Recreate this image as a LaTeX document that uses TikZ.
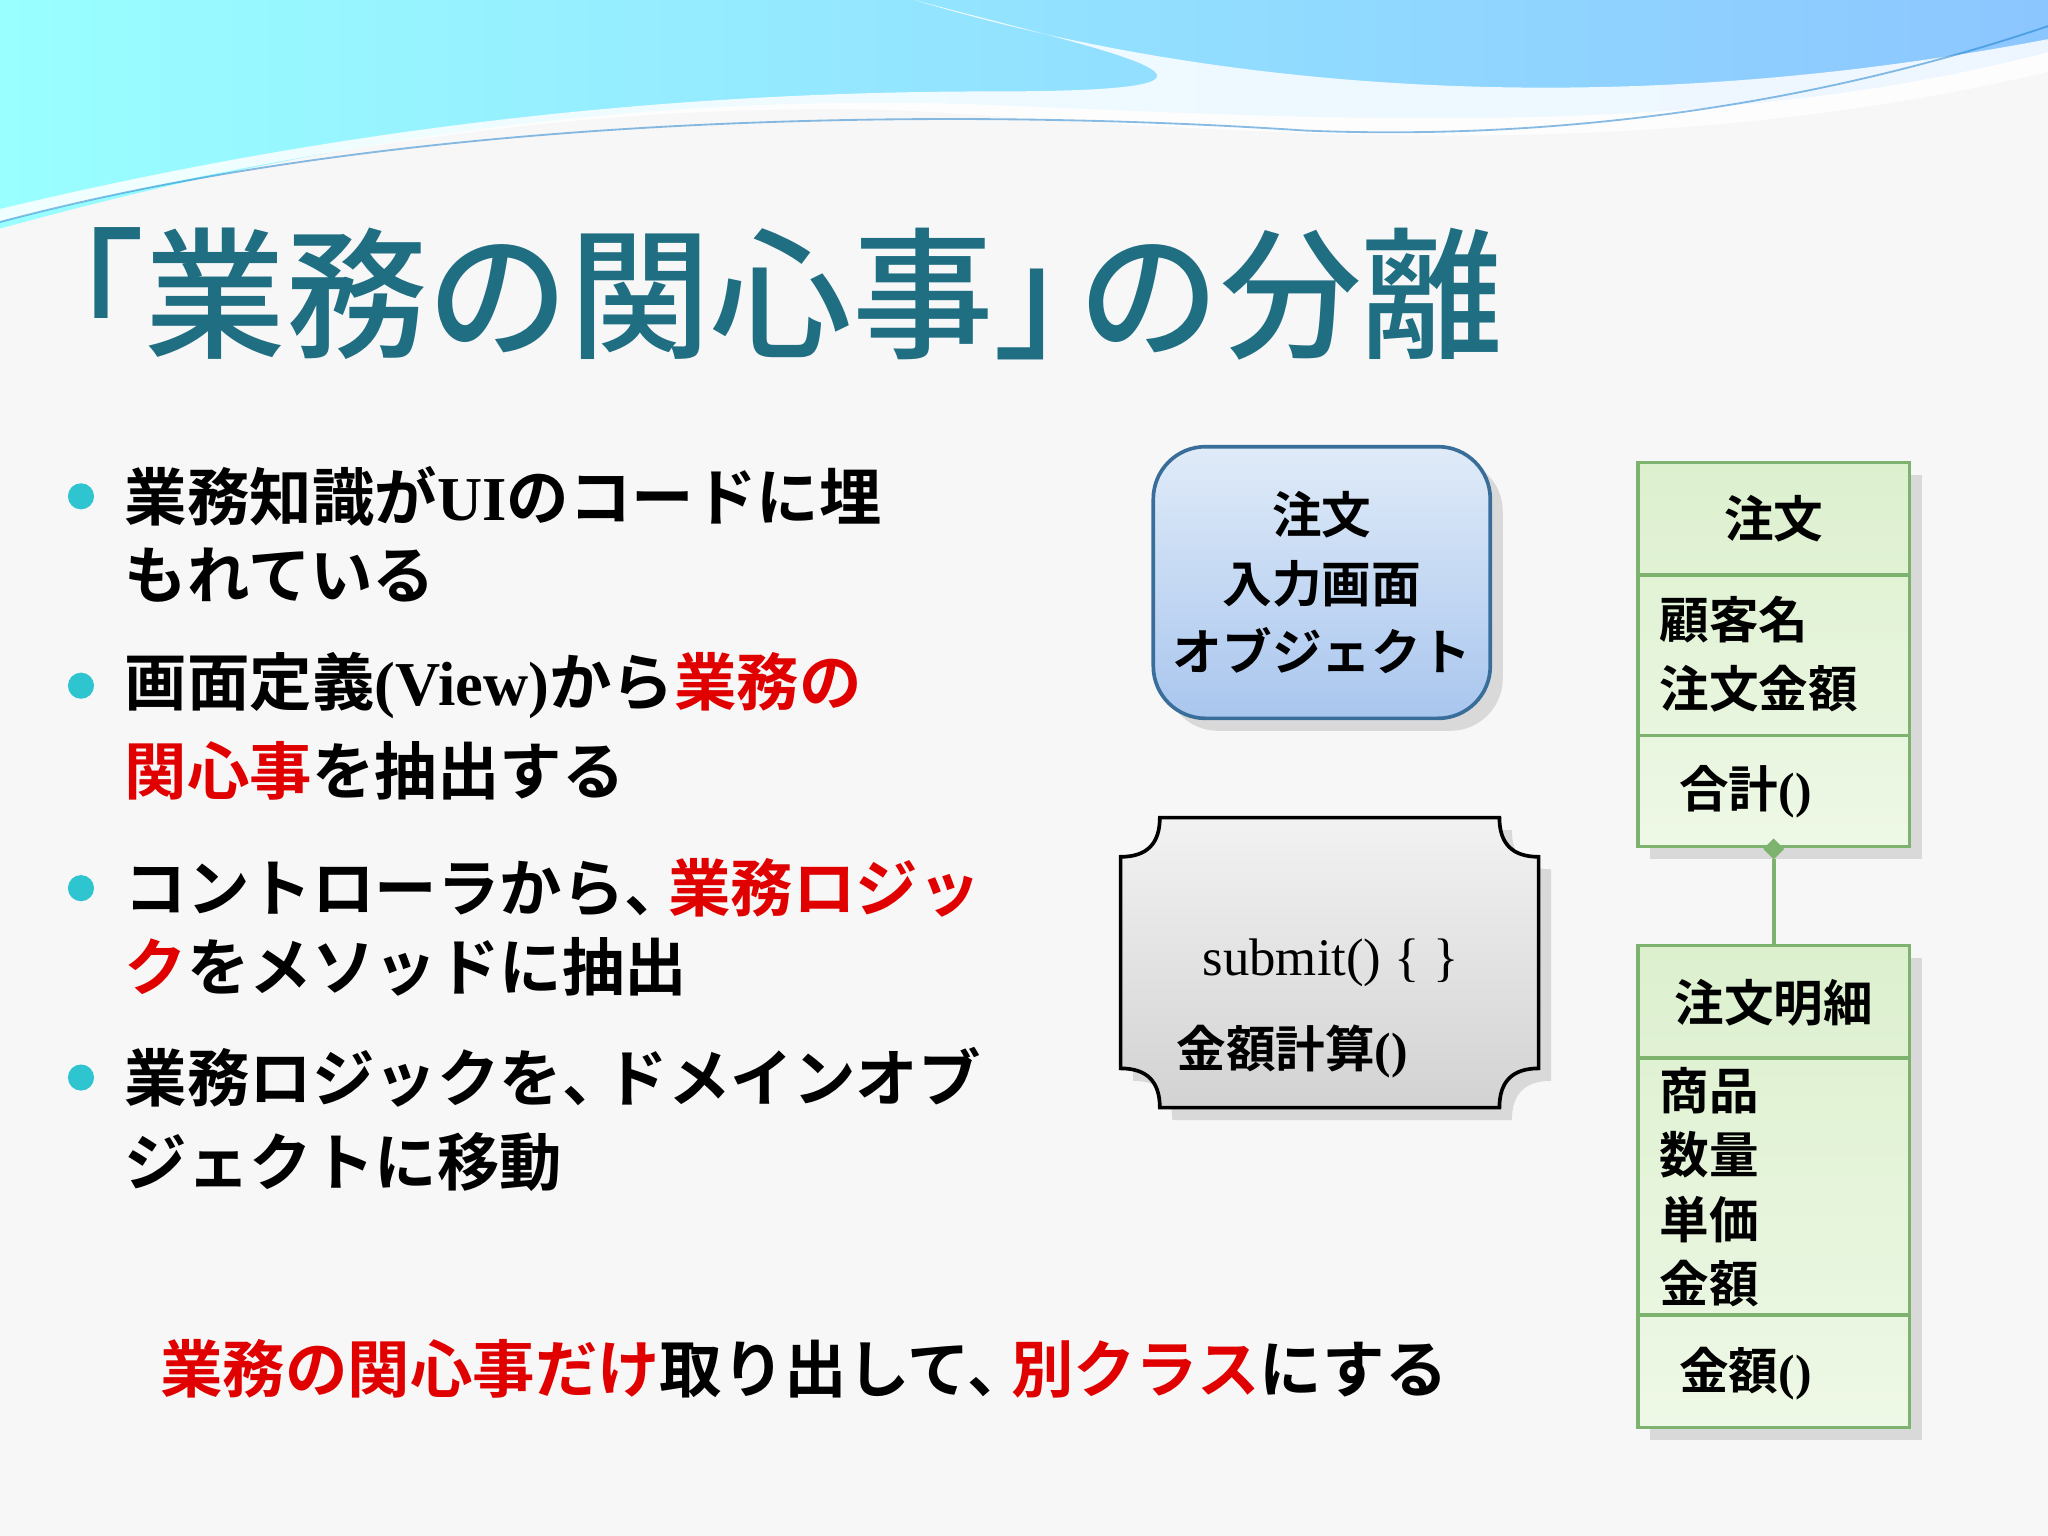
\documentclass[tikz,border=0pt]{standalone}
\usepackage{fontspec}
\setmainfont{Noto Sans CJK JP}[BoldFont={Noto Sans CJK JP Bold}]
\newfontfamily\titlefont{Noto Sans CJK JP Medium}
\newfontfamily\latinserif{Liberation Serif}[BoldFont={Liberation Serif Bold}]
\usetikzlibrary{shadows}
\definecolor{titlec}{HTML}{1F6E82}
\definecolor{redc}{HTML}{E00000}
\definecolor{bulc}{HTML}{2EC4D0}
\definecolor{grn}{HTML}{7DB36E}
\definecolor{btop}{HTML}{E0EBF8}
\definecolor{bbot}{HTML}{A9C6EE}
\definecolor{bdr}{HTML}{3A6E9A}
\definecolor{gtop}{HTML}{DCF0CE}
\definecolor{gbot}{HTML}{EEF8E6}
\begin{document}
\begin{tikzpicture}[x=0.01cm,y=-0.01cm,
  bt/.style={anchor=west,font=\fontsize{13.6}{16}\selectfont\bfseries,inner sep=0},
  dot/.style={circle,fill=bulc,inner sep=0,minimum size=0.2cm},
  bx/.style={font=\fontsize{10.8}{13}\selectfont\bfseries,inner sep=0},
  cls/.style={draw=grn,line width=0.8pt,top color=gtop,bottom color=gbot,drop shadow={opacity=0.25}}]
\useasboundingbox (0,0) rectangle (1568,1176);
\fill[gray!6] (0,0) rectangle (1568,1176);
% top wave
\shade[left color=cyan!40!white,right color=cyan!50!blue!45!white] (0,0) -- (1568,0) -- (1568,40) .. controls (1300,110) and (1000,90) .. (750,80) .. controls (450,70) and (200,120) .. (0,175) -- cycle;
\fill[white,opacity=0.85] (700,0) .. controls (900,60) and (1200,100) .. (1568,30) -- (1568,55) .. controls (1250,130) and (950,100) .. (700,85) .. controls (450,75) and (200,120) .. (0,170) -- (0,160) .. controls (250,100) and (500,70) .. (760,70) .. controls (1000,70) and (850,40) .. (700,0) -- cycle;
\draw[cyan!60!blue,opacity=0.5] (0,170) .. controls (300,90) and (700,80) .. (1000,100) .. controls (1250,110) and (1450,60) .. (1568,20);
% title
\node[anchor=west,text=titlec,font=\fontsize{30.8}{33}\selectfont\titlefont,inner sep=0] (title) at (2,225) {「業務の関心事」\kern-0.4em の分離};
% bullets
\foreach \y in {380,525,680,825} \node[dot] at (62,\y) {};
\node[bt] (b1a) at (95,380) {業務知識が{\latinserif UI}のコードに埋};
\node[bt] (b1b) at (95,440) {もれている};
\node[bt] (b2a) at (95,525) {画面定義{\latinserif (View)}から\textcolor{redc}{業務の}};
\node[bt] (b2b) at (95,590) {\textcolor{redc}{関心事}を抽出する};
\node[bt] (b3a) at (95,680) {コントローラから、\kern-0.3em\textcolor{redc}{業務ロジッ}};
\node[bt] (b3b) at (95,740) {\textcolor{redc}{ク}をメソッドに抽出};
\node[bt] (b4a) at (95,825) {業務ロジックを、\kern-0.3em ドメインオブ};
\node[bt] (b4b) at (95,890) {ジェクトに移動};
\node[bt] (bottom) at (122,1048) {\textcolor{redc}{業務の関心事だけ}取り出して、\kern-0.3em\textcolor{redc}{別クラス}にする};
% blue box
\draw[draw=bdr,line width=0.8pt,rounded corners=0.4cm,top color=btop,bottom color=bbot,drop shadow={opacity=0.25}] (883,342) rectangle (1141,550);
\node[bx,align=center] (ui) at (1012,446) {注文\\[2pt]入力画面\\[2pt]オブジェクト};
% gray box
\draw[line width=0.8pt,top color=gray!10,bottom color=gray!35,drop shadow={opacity=0.25}] (888,626) -- (1148,626) .. controls (1148,646) and (1158,656) .. (1178,656) -- (1178,818) .. controls (1158,818) and (1148,828) .. (1148,848) -- (888,848) .. controls (888,828) and (878,818) .. (858,818) -- (858,656) .. controls (878,656) and (888,646) .. (888,626) -- cycle;
\node[bx,anchor=west,font=\fontsize{11.5}{13}\selectfont] (sub) at (920,737) {\latinserif submit() \{ \}};
\node[bx,anchor=west] (calc) at (900,805) {金額計算{\latinserif ()}};
% class 注文
\draw[cls] (1254,354) rectangle (1462,648);
\draw[grn,line width=0.8pt] (1254,440) -- (1462,440) (1254,563) -- (1462,563);
\node[bx] (c1) at (1358,397) {注文};
\node[bx,anchor=west,align=left] (c1a) at (1270,501) {顧客名\\[2pt]注文金額};
\node[bx,anchor=west] (c1m) at (1285,606) {合計{\latinserif ()}};
% class 注文明細
\draw[cls] (1254,724) rectangle (1462,1093);
\draw[grn,line width=0.8pt] (1254,810) -- (1462,810) (1254,1007) -- (1462,1007);
\node[bx] (c2) at (1358,768) {注文明細};
\node[bx,anchor=west,align=left] (c2a) at (1270,909) {商品\\[1pt]数量\\[1pt]単価\\[1pt]金額};
\node[bx,anchor=west] (c2m) at (1285,1052) {金額{\latinserif ()}};
% composition
\coordinate (dbot) at (1358,658);
\coordinate (c2top) at (1358,724);
\draw[grn,line width=0.8pt] (dbot) -- (c2top);
\fill[grn] (1358,642) -- (1366,650) -- (1358,658) -- (1350,650) -- cycle;
\end{tikzpicture}
\end{document}
